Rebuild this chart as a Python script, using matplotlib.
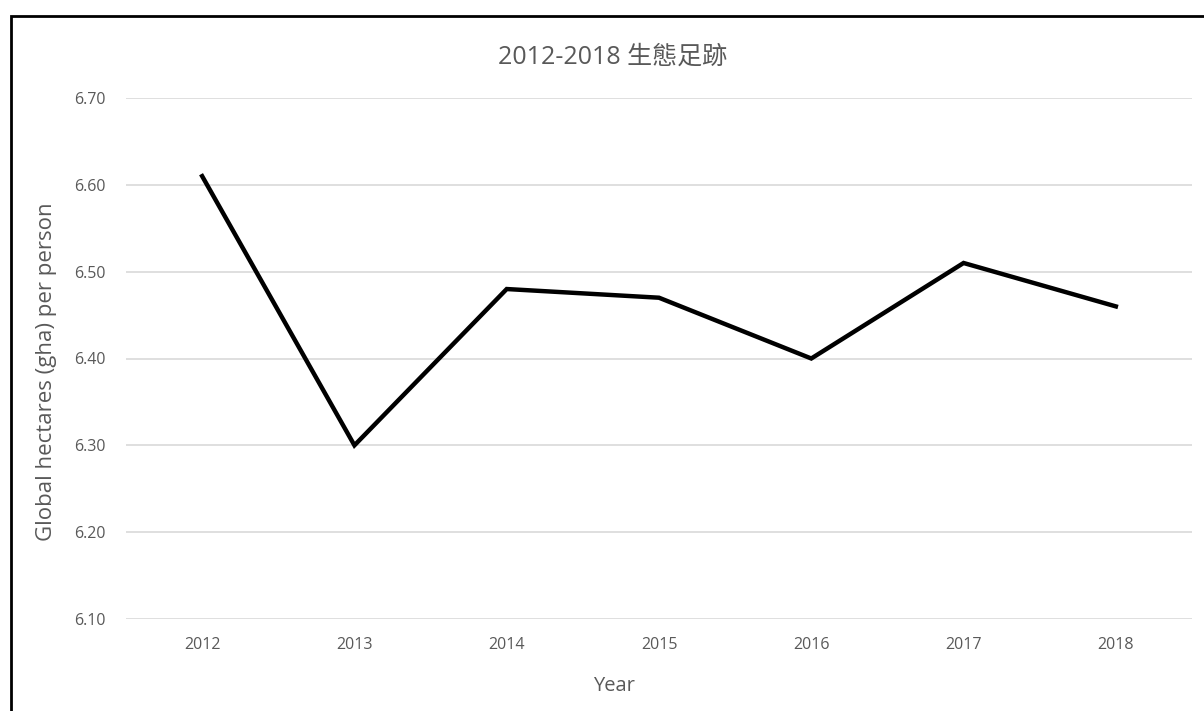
import matplotlib
matplotlib.use("Agg")
import matplotlib.pyplot as plt
from matplotlib.patches import Rectangle

plt.rcParams['font.family'] = ['Open Sans', 'Noto Sans CJK TC', 'DejaVu Sans']

# data
years = ['2012', '2013', '2014', '2015', '2016', '2017', '2018']
footprint = [6.61, 6.30, 6.48, 6.47, 6.40, 6.51, 6.46]
yticks = [6.10, 6.20, 6.30, 6.40, 6.50, 6.60, 6.70]

text_color = '#595959'
W, H = 1204, 711

fig = plt.figure(figsize=(12.04, 7.11), dpi=100)
ax = fig.add_axes([126 / W, 1 - 619 / H, 1066 / W, 521 / H])

x = list(range(len(years)))
ax.plot(x, footprint, color='black', linewidth=3.2, solid_joinstyle='miter', zorder=3)

ax.set_xlim(-0.5, len(years) - 0.5)
ax.set_ylim(6.10, 6.70)
ax.set_yticks(yticks)
ax.set_yticklabels(['%.2f' % v for v in yticks])
ax.set_xticks(x)
ax.set_xticklabels(years)
ax.grid(axis='y', color='#d9d9d9', linewidth=1.2)
ax.set_axisbelow(True)
for s in ax.spines.values():
    s.set_visible(False)
ax.tick_params(axis='both', length=0, labelsize=11.5, labelcolor=text_color)
ax.tick_params(axis='x', pad=13)
ax.tick_params(axis='y', pad=15)

fig.text(614 / W, 1 - 686 / H, 'Year', ha='center', va='center',
         fontsize=14.5, color=text_color)
fig.text(47 / W, 1 - 372 / H, 'Global hectares (gha) per person', ha='center',
         va='center', rotation=90, fontsize=16, color=text_color)
fig.text(613 / W, 1 - 57 / H, '2012-2018 生態足跡', ha='center', va='center',
         fontsize=18, color=text_color)

# outer frame
fig.patches.append(Rectangle((11 / W, -0.05), 1.1, 1 - 16 / H + 0.05,
                             transform=fig.transFigure, fill=False,
                             edgecolor='black', linewidth=2))

fig.savefig('out.png', dpi=100)
